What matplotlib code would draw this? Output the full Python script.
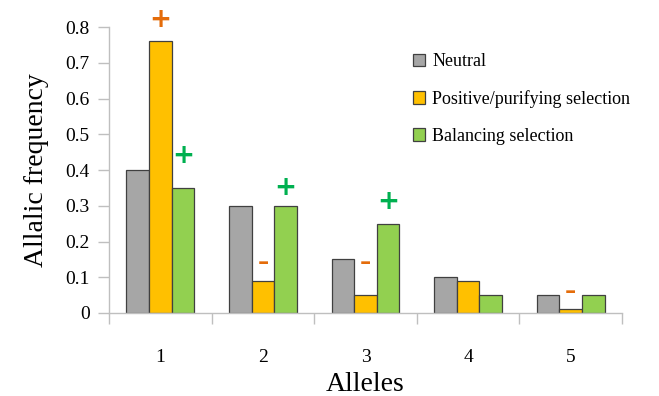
import numpy as np
import matplotlib
matplotlib.use("Agg")
import matplotlib.pyplot as plt
from matplotlib.ticker import FixedLocator, NullFormatter

plt.rcParams['font.family'] = ['Liberation Serif', 'DejaVu Serif']

alleles = ['1', '2', '3', '4', '5']
series_names = ['Neutral', 'Positive/purifying selection', 'Balancing selection']
neutral = [0.40, 0.30, 0.15, 0.10, 0.05]
positive = [0.76, 0.09, 0.05, 0.09, 0.01]
balancing = [0.35, 0.30, 0.25, 0.05, 0.05]
yticks = [0, 0.1, 0.2, 0.3, 0.4, 0.5, 0.6, 0.7, 0.8]
ytick_labels = ['0', '0.1', '0.2', '0.3', '0.4', '0.5', '0.6', '0.7', '0.8']

# significance marks: (allele index, series index, sign, label height)
marks = [
    (0, 1, '+', 0.82),
    (0, 2, '+', 0.44),
    (1, 1, '-', 0.14),
    (1, 2, '+', 0.35),
    (2, 1, '-', 0.14),
    (2, 2, '+', 0.31),
    (4, 1, '-', 0.06),
]

colors = ['#A6A6A6', '#FFC000', '#92D050']
green_sign = '#00B050'

fig = plt.figure(figsize=(6.59, 3.96), dpi=100)
ax = fig.add_axes([0.1654, 0.2096, 0.7785, 0.7222])

x = np.arange(1, len(alleles) + 1)
w = 0.22
data = [neutral, positive, balancing]
for i, (vals, c, name) in enumerate(zip(data, colors, series_names)):
    ax.bar(x + (i - 1) * w, vals, width=w, color=c, edgecolor='#404040',
           linewidth=0.9, label=name)

for ci, si, sign, yv in marks:
    col = '#E46C0A' if si == 1 else green_sign
    txt = '+' if sign == '+' else '\u2013'
    ax.text(x[ci] + (si - 1) * w, yv, txt, ha='center', va='center',
            fontsize=19 if sign == '+' else 16, fontweight='bold', color=col,
            family='DejaVu Sans')

ax.set_xlim(0.5, len(alleles) + 0.5)
ax.set_ylim(0, 0.8)
ax.set_yticks(yticks)
ax.set_yticklabels(ytick_labels, fontsize=14)
ax.xaxis.set_major_locator(FixedLocator(np.arange(0.5, len(alleles) + 1, 1)))
ax.xaxis.set_major_formatter(NullFormatter())
ax.set_xticks(x, minor=True)
ax.set_xticklabels(alleles, minor=True, fontsize=14)
ax.tick_params(axis='x', which='major', length=8, color='#BFBFBF', width=1)
ax.tick_params(axis='x', which='minor', length=0, pad=26)
ax.tick_params(axis='y', length=8, color='#BFBFBF', width=1, pad=6)

for s in ['top', 'right']:
    ax.spines[s].set_visible(False)
for s in ['left', 'bottom']:
    ax.spines[s].set_color('#BFBFBF')
    ax.spines[s].set_linewidth(1)

ax.set_xlabel('Alleles', fontsize=20, labelpad=4)
ax.set_ylabel('Allalic frequency', fontsize=20, labelpad=12)

ax.legend(loc='upper left', bbox_to_anchor=(0.615, 0.784, 0.3, 0.1),
          bbox_transform=fig.transFigure, frameon=False, fontsize=13,
          handlelength=0.7, handleheight=0.7, handletextpad=0.4,
          labelspacing=1.1, borderaxespad=0)

fig.savefig('out.png', dpi=100)
